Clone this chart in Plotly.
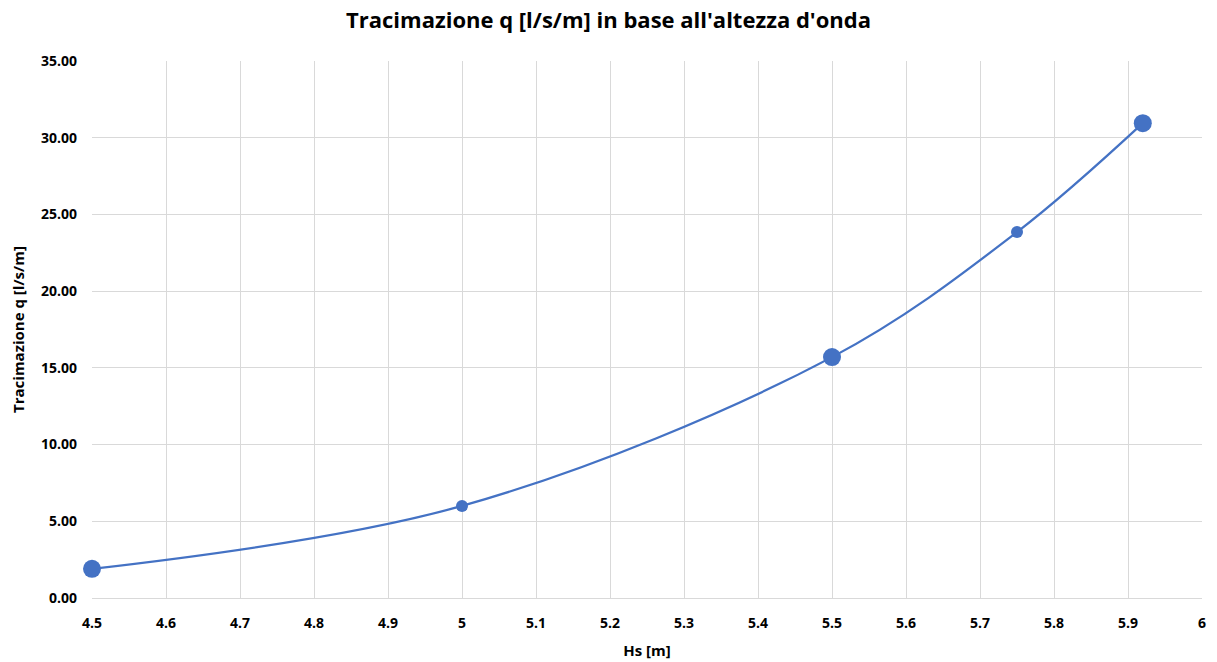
import plotly.graph_objects as go

hs = [4.5, 5.0, 5.5, 5.75, 5.92]
q = [1.9, 6.0, 15.7, 23.85, 30.95]
x_ticks = [4.5, 4.6, 4.7, 4.8, 4.9, 5.0, 5.1, 5.2, 5.3, 5.4, 5.5, 5.6, 5.7, 5.8, 5.9, 6.0]
x_labels = ["4.5", "4.6", "4.7", "4.8", "4.9", "5", "5.1", "5.2", "5.3", "5.4", "5.5", "5.6", "5.7", "5.8", "5.9", "6"]
y_ticks = [0, 5, 10, 15, 20, 25, 30, 35]

blue = "#4472C4"
font_family = "Open Sans, Liberation Sans, sans-serif"

fig = go.Figure()
fig.add_trace(go.Scatter(
    x=hs, y=q, mode="lines+markers",
    line=dict(color=blue, width=2.25, shape="spline", smoothing=1),
    marker=dict(color=blue, size=[18, 12, 18, 12, 18], opacity=1,
                line=dict(width=0)),
    cliponaxis=False,
    showlegend=False,
))

fig.update_layout(
    width=1217, height=662,
    margin=dict(l=92, r=15, t=61, b=64),
    paper_bgcolor="white", plot_bgcolor="white",
    title=dict(text="<b>Tracimazione q [l/s/m] in base all'altezza d'onda</b>",
               x=0.5, xanchor="center", y=0.970, yanchor="middle",
               font=dict(family=font_family, size=22, color="#000000")),
    font=dict(family=font_family, color="#000000"),
)
fig.update_xaxes(
    range=[4.5, 6.0], tickvals=x_ticks, ticktext=x_labels,
    tickfont=dict(size=14, family=font_family, weight="bold"),
    showgrid=True, gridcolor="#d9d9d9", gridwidth=1,
    showline=True, linecolor="#d9d9d9", linewidth=1, mirror=False,
    zeroline=False, ticks="", ticklen=0, ticklabelstandoff=12,
    automargin=False,
    title=dict(text="<b>Hs [m]</b>", font=dict(size=15, family=font_family), standoff=14),
)
fig.update_yaxes(
    range=[0, 35], tickvals=y_ticks, tickformat=".2f",
    tickfont=dict(size=14, family=font_family, weight="bold"),
    showgrid=True, gridcolor="#d9d9d9", gridwidth=1,
    showline=False, zeroline=False, ticks="", ticklabelstandoff=14,
    automargin=False,
    title=dict(text="<b>Tracimazione q [l/s/m]</b>", font=dict(size=15, family=font_family), standoff=12),
)

fig.write_html("out.html")
